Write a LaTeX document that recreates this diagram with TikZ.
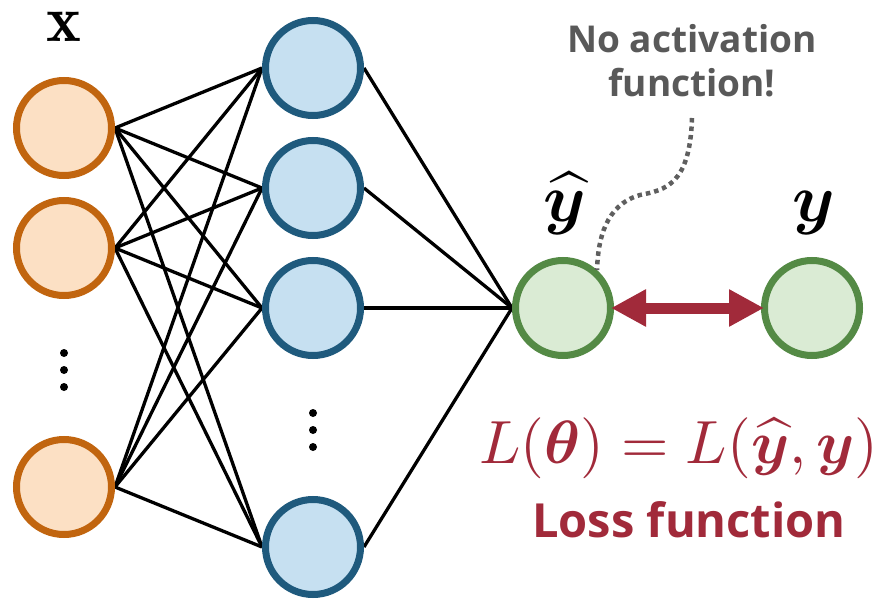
\documentclass[tikz,border=0pt]{standalone}
\usepackage{amsmath,bm}
\usepackage{graphicx}
\usepackage{fontspec}
\newfontfamily\opensans{Open Sans}
\usetikzlibrary{arrows.meta,backgrounds}
\definecolor{infill}{HTML}{FCE0C4}
\definecolor{indraw}{HTML}{C1650F}
\definecolor{hidfill}{HTML}{C6E0F1}
\definecolor{hiddraw}{HTML}{1F5A7D}
\definecolor{outfill}{HTML}{DAEBD4}
\definecolor{outdraw}{HTML}{548A45}
\definecolor{lossred}{HTML}{A12A3A}
\definecolor{notegray}{HTML}{595959}
\definecolor{dotgray}{HTML}{5F5F5F}
\tikzset{
  neuron/.style={circle, minimum size=95pt, inner sep=0pt, line width=7pt},
  innode/.style={neuron, draw=indraw, fill=infill},
  hidnode/.style={neuron, draw=hiddraw, fill=hidfill},
  outnode/.style={neuron, draw=outdraw, fill=outfill},
  conn/.style={black, line width=3.3pt},
  vdot/.style={circle, fill=black, inner sep=0pt, minimum size=8pt},
  mathlbl/.style={inner sep=0pt, anchor=base},
  notetext/.style={anchor=base, text=notegray, font=\opensans\bfseries\fontsize{37}{44}\selectfont, inner sep=0pt},
}
\begin{document}
\begin{tikzpicture}[x=1pt,y=-1pt]
\useasboundingbox (0,0) rectangle (884,599);
% input layer
\node[innode] (i1) at (64,128) {};
\node[innode] (i2) at (64,248) {};
\node[innode] (i3) at (64,487) {};
\node[vdot] (di1) at (64,353) {};
\node[vdot] (di2) at (64,370) {};
\node[vdot] (di3) at (64,387) {};
% hidden layer
\node[hidnode] (h1) at (313,68) {};
\node[hidnode] (h2) at (313,188) {};
\node[hidnode] (h3) at (313,308) {};
\node[hidnode] (h4) at (313,547) {};
\node[vdot] (dh1) at (313,413) {};
\node[vdot] (dh2) at (313,430) {};
\node[vdot] (dh3) at (313,447) {};
% outputs
\node[outnode] (yh) at (563,308) {};
\node[outnode] (yt) at (812,308) {};
% connections
\begin{scope}[on background layer]
\foreach \i in {i1,i2,i3}{
  \foreach \h in {h1,h2,h3,h4}{
    \draw[conn] (\i.east) -- (\h.west);
  }
}
\foreach \h in {h1,h2,h3,h4}{
  \draw[conn] (\h.east) -- (yh.west);
}
\end{scope}
% loss arrow
\draw[lossred, line width=11pt, {Triangle[length=35pt,width=35pt]}-{Triangle[length=35pt,width=35pt]}, shorten <=-3pt, shorten >=-3pt] (yh.east) -- (yt.west);
% labels
\node[mathlbl] (xl) at (64,42) {\scalebox{6.6}{$\mathbf{x}$}};
\node[mathlbl] (yhl) at (565,222) {\scalebox{6.8}{$\widehat{\bm{y}}$}};
\node[mathlbl] (ytl) at (814,222) {\scalebox{6.8}{$\bm{y}$}};
% note
\node[notetext] (note1) at (692,53) {No activation};
\node[notetext] (note2) at (692,97) {function!};
\coordinate (nstart) at (692,118);
\draw[dotgray, line width=4.5pt, dash pattern=on 4.5pt off 4pt] (nstart) .. controls (690,185) and (665,190) .. (640,195) .. controls (605,205) and (598,240) .. (597,270);
% loss
\node[anchor=base, text=lossred, inner sep=0pt] (lf) at (679,463) {\scalebox{6.1}{$L(\bm{\theta})=L(\widehat{\bm{y}},\bm{y})$}};
\node[anchor=base, text=lossred, inner sep=0pt, font=\opensans\bfseries\fontsize{47}{47}\selectfont] (lt) at (689,537) {Loss function};
\end{tikzpicture}
\end{document}
